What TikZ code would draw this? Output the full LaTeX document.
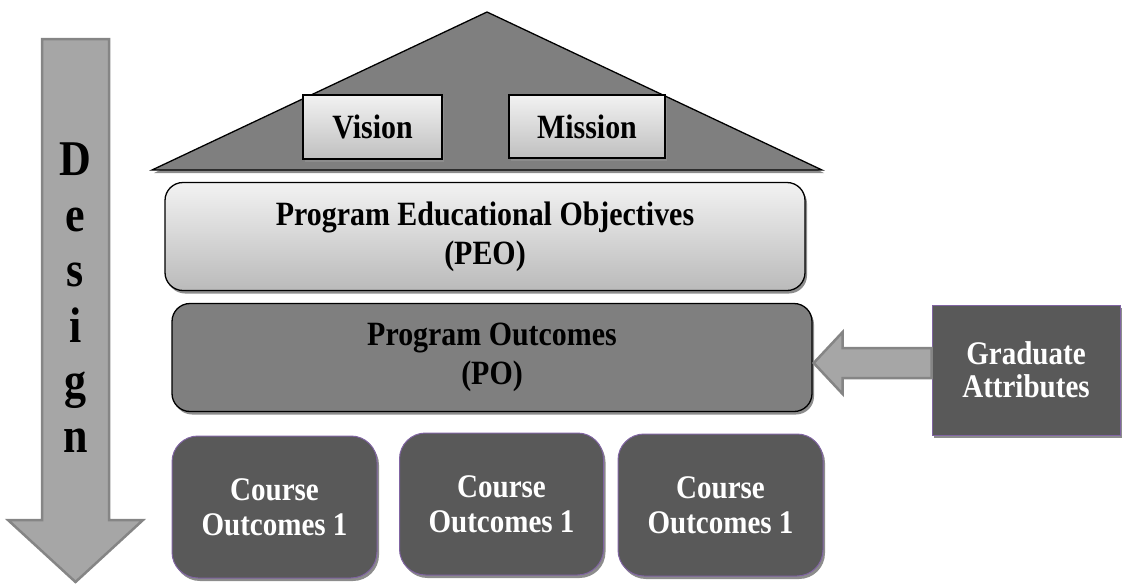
\documentclass[tikz,border=0pt]{standalone}
\usepackage{fontspec}
\setmainfont{Liberation Serif}[FakeStretch=0.88]
\usetikzlibrary{shadows,calc}

\definecolor{roofgray}{HTML}{7F7F7F}
\definecolor{darkbox}{HTML}{595959}
\definecolor{boxline}{HTML}{8064A2}
\definecolor{arrowfill}{HTML}{A6A6A6}
\definecolor{arrowline}{HTML}{858585}

\tikzset{
  shade/.style={drop shadow={shadow xshift=2pt,shadow yshift=-3pt,fill=black!45,opacity=1}},
  roofbox/.style={draw=black,line width=1.3pt,inner sep=0pt,top color=black!5,bottom color=black!25,
    shade,align=center,font=\fontsize{34}{38}\selectfont\bfseries},
  levelbox/.style={draw=black,line width=1.3pt,rounded corners=18pt,inner sep=0pt,minimum width=640pt,
    minimum height=108pt,shade,align=center,font=\fontsize{34}{39}\selectfont\bfseries},
  darkbox/.style={draw=boxline,line width=1pt,fill=darkbox,text=white,inner sep=0pt,shade,
    align=center,font=\fontsize{33}{35}\selectfont\bfseries},
  fatarrow/.style={fill=arrowfill,draw=arrowline,line width=2.5pt}
}

\begin{document}
\begin{tikzpicture}[x=1pt,y=-1pt]
\useasboundingbox (0,0) rectangle (1124,584);
% design arrow
\draw[fatarrow] (42,39) -- (109,39) -- (109,520) -- (143,520) -- (75.5,582) -- (8,520) -- (42,520) -- cycle;
\node[font=\fontsize{50}{55.4}\selectfont\bfseries,align=center,inner sep=0pt] (design) at (75.5,298)
  {D\\e\\s\\i\\g\\n};
% roof
\draw[fill=roofgray,line width=1.3pt,line join=miter,shade] (152,170) -- (487,12) -- (822,170) -- cycle;
\node[roofbox,minimum width=139pt,minimum height=64pt] (vision) at (372.5,127) {Vision};
\node[roofbox,minimum width=156pt,minimum height=63pt] (mission) at (587,126.5) {Mission};
% levels
\node[levelbox,top color=black!5,bottom color=black!27] (peo) at (485,236.5)
  {Program Educational Objectives\\(PEO)};
\node[levelbox,fill=roofgray] (po) at (492,357.5) {Program Outcomes\\(PO)};
\node[darkbox,rounded corners=26pt,minimum width=205pt,minimum height=142pt] (co1) at (274.5,507)
  {Course\\Outcomes 1};
\node[darkbox,rounded corners=26pt,minimum width=204pt,minimum height=142pt] (co2) at (501.5,504)
  {Course\\Outcomes 1};
\node[darkbox,rounded corners=26pt,minimum width=205pt,minimum height=142pt] (co3) at (720.5,505)
  {Course\\Outcomes 1};
\node[darkbox,font=\fontsize{33}{33}\selectfont\bfseries,minimum width=188pt,minimum height=130pt] (ga)
  at (1026,370) {Graduate\\Attributes};
% graduate attributes feed the program outcomes
\coordinate (tip) at ($(po.east)+(1,5.5)$);
\draw[fatarrow] (tip) -- ++(29,-31) -- ++(0,16) -- ($(ga.west |- tip)+(0,-15)$)
  -- ($(ga.west |- tip)+(0,15)$) -- ($(tip)+(29,15)$) -- ++(0,16) -- cycle;
\end{tikzpicture}
\end{document}
